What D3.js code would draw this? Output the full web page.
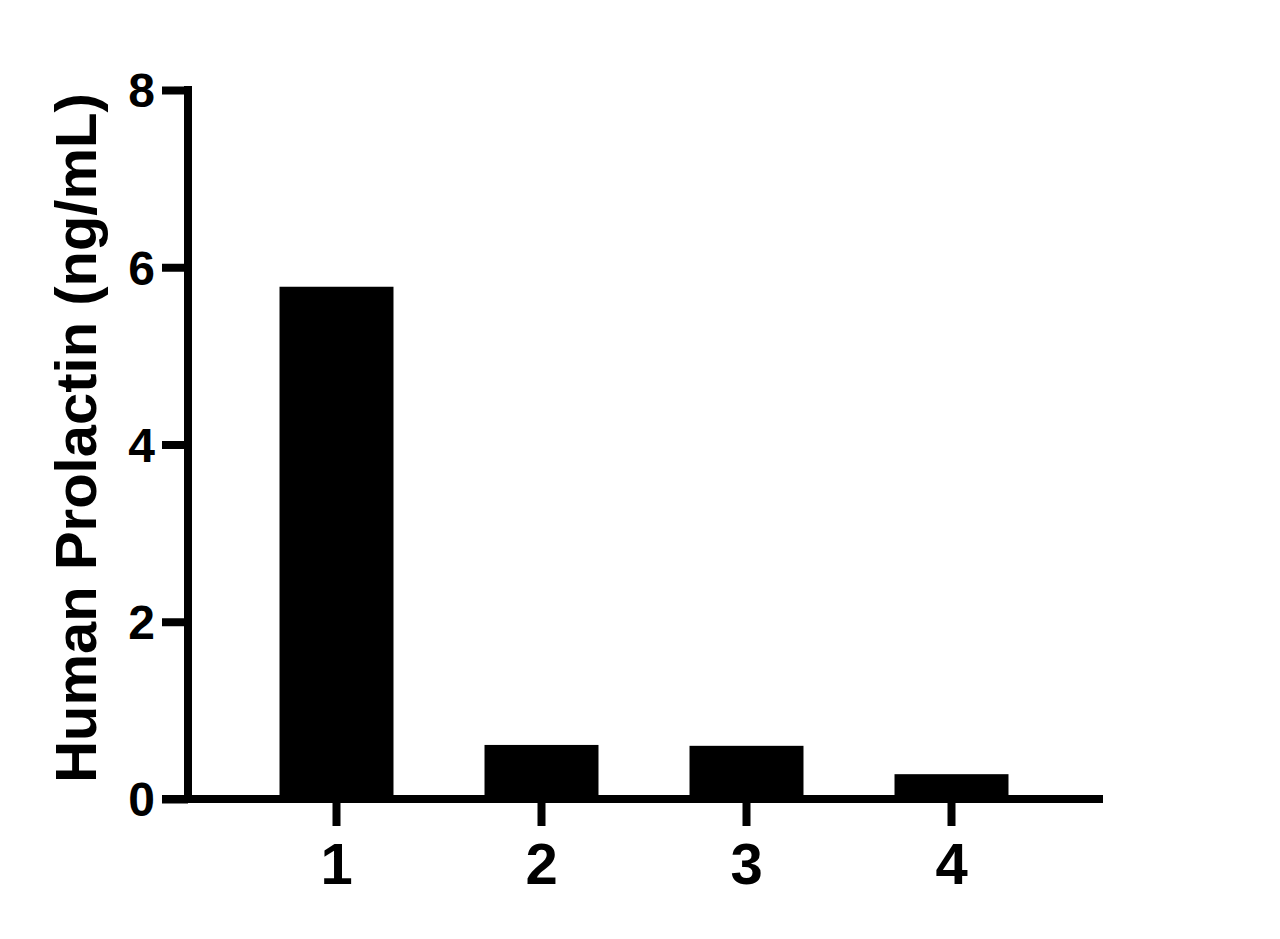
<!DOCTYPE html>
<html>
<head>
<meta charset="utf-8">
<script src="https://cdn.jsdelivr.net/npm/d3@7"></script>
<style>
  body { margin: 0; background: #fff; }
  text { font-family: "Liberation Sans", Arial, sans-serif; font-weight: bold; fill: #000; }
</style>
</head>
<body>
<script>
// data
var categories = ["1", "2", "3", "4"];
var values = [5.78, 0.61, 0.60, 0.28];
var yTicks = [0, 2, 4, 6, 8];
var yTitle = "Human Prolactin (ng/mL)";

var width = 1280, height = 939;

var svg = d3.select("body").append("svg")
    .attr("width", width)
    .attr("height", height);

var x = d3.scaleBand()
    .domain(categories)
    .range([234, 1054])
    .paddingInner(0.444)
    .paddingOuter(0.222);

var y = d3.scaleLinear()
    .domain([0, 8])
    .range([799, 90]);

// bars
svg.selectAll(".bar")
    .data(values)
    .enter().append("rect")
    .attr("class", "bar")
    .attr("x", function (d, i) { return x(categories[i]); })
    .attr("y", function (d) { return y(d); })
    .attr("width", x.bandwidth())
    .attr("height", function (d) { return y(0) - y(d); })
    .attr("fill", "#000");

// y axis
var yAxis = svg.append("g")
    .attr("transform", "translate(188,0)")
    .call(d3.axisLeft(y).tickValues(yTicks).tickSize(26).tickPadding(7).tickFormat(d3.format("d")));
yAxis.select(".domain")
    .attr("d", "M0," + (y(8) - 4) + "V" + y(0))
    .attr("stroke", "#000")
    .attr("stroke-width", 8);
yAxis.selectAll(".tick line").attr("stroke", "#000").attr("stroke-width", 8);
yAxis.selectAll(".tick text")
    .attr("font-size", 48)
    .attr("dy", "0.35em")
    .attr("font-family", "'Liberation Sans', Arial, sans-serif")
    .attr("font-weight", "bold");

// x axis
var xAxis = svg.append("g")
    .attr("transform", "translate(0," + y(0) + ")")
    .call(d3.axisBottom(x).tickSize(27).tickPadding(17));
xAxis.select(".domain")
    .attr("d", "M162,0H1103")
    .attr("stroke", "#000")
    .attr("stroke-width", 8);
xAxis.selectAll(".tick line").attr("stroke", "#000").attr("stroke-width", 8);
xAxis.selectAll(".tick text")
    .attr("font-size", 58)
    .attr("font-family", "'Liberation Sans', Arial, sans-serif")
    .attr("font-weight", "bold");

// y title
svg.append("text")
    .attr("transform", "translate(96," + 438 + ") rotate(-90)")
    .attr("text-anchor", "middle")
    .attr("font-size", 58)
    .text(yTitle);
</script>
</body>
</html>
